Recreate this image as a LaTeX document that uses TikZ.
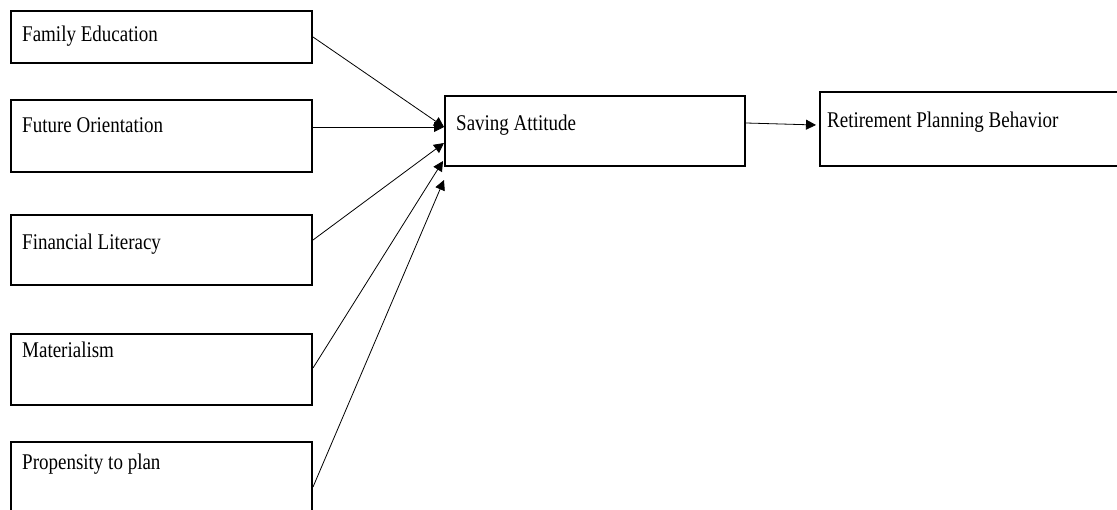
\documentclass[tikz,border=0pt]{standalone}
\usepackage{fontspec}
\setmainfont{Liberation Serif}
\usepackage{tikz}
\usetikzlibrary{arrows.meta, calc}
\newcommand{\tallbox}[1]{\scalebox{1}[1.18]{#1}}

\begin{document}
\begin{tikzpicture}[x=1pt, y=-1pt,
  box/.style={draw, line width=2pt, anchor=north west, inner sep=0pt},
  lbl/.style={anchor=base west, inner sep=0pt, font=\fontsize{19}{23}\selectfont},
  link/.style={line width=0.8pt, -{Triangle[length=10pt, width=10pt]}}]
\clip (0,0) rectangle (1117,510);
% factor boxes on the left
\node[box, minimum width=301pt, minimum height=52pt] (fam) at (10,10) {};
\node[box, minimum width=301pt, minimum height=72pt] (fut) at (10,99) {};
\node[box, minimum width=301pt, minimum height=70pt] (fin) at (10,214) {};
\node[box, minimum width=301pt, minimum height=71pt] (mat) at (10,333) {};
\node[box, minimum width=301pt, minimum height=80pt] (pro) at (10,441) {};
\node[lbl] (famtxt) at (22,42) {\tallbox{Family Education}};
\node[lbl] (futtxt) at (22,133) {\tallbox{Future Orientation}};
\node[lbl] (fintxt) at (22,250) {\tallbox{Financial Literacy}};
\node[lbl] (mattxt) at (22,358) {\tallbox{Materialism}};
\node[lbl] (protxt) at (22,470) {\tallbox{Propensity to plan}};
% mediator and outcome
\node[box, minimum width=300pt, minimum height=70pt] (sav) at (444,95) {};
\node[box, minimum width=310pt, minimum height=74pt] (ret) at (819,91) {};
\node[lbl] (savtxt) at (456,131) {\tallbox{Saving Attitude}};
\node[lbl] (rettxt) at (827,128) {\tallbox{Retirement Planning Behavior}};
% paths
\draw[link] ($(fam.north east)+(0,27)$) -- ($(sav.north west)+(0,32)$);
\draw[link] ($(fut.north east)+(0,28)$) -- ($(sav.north west)+(0,32)$);
\draw[link] ($(fin.north east)+(0,26)$) -- ($(sav.north west)+(0,48)$);
\draw[link] ($(mat.north east)+(0,35)$) -- ($(sav.north west)+(-1,66)$);
\draw[link] ($(pro.north east)+(0,46)$) -- ($(sav.north west)+(0,85)$);
\draw[link] ($(sav.north east)+(0,28)$) -- ($(ret.north west)+(-3,34)$);
\end{tikzpicture}
\end{document}
